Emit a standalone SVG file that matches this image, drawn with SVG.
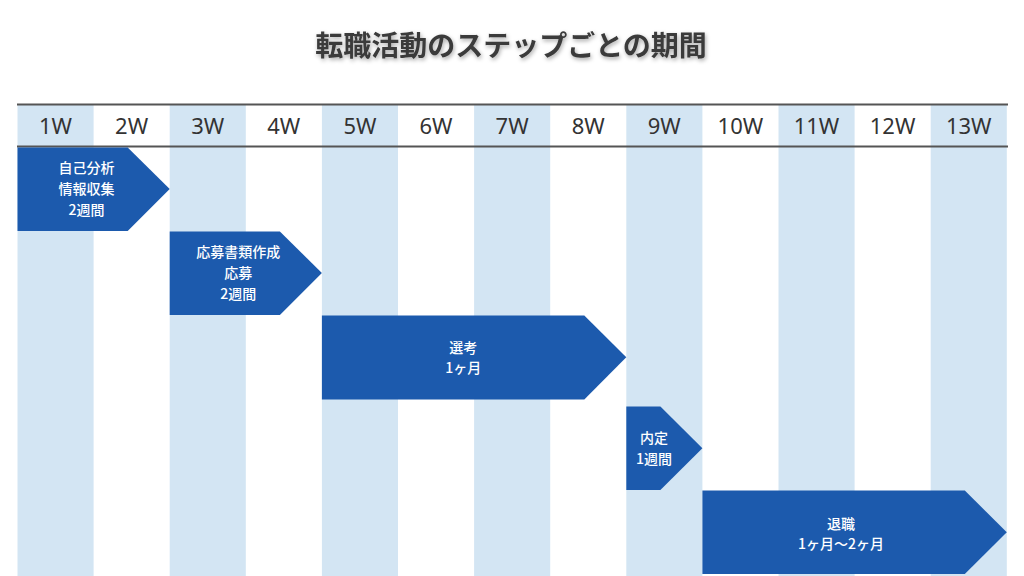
<svg xmlns="http://www.w3.org/2000/svg" width="1024" height="576" viewBox="0 0 1024 576">
<defs>
<filter id="sh" x="-10%" y="-50%" width="120%" height="200%">
<feDropShadow dx="1" dy="2" stdDeviation="2" flood-color="#000" flood-opacity="0.35"/>
</filter>
<style>
.col{fill:#d3e5f3}
.hd{font-family:"Noto Sans","Open Sans",sans-serif;font-size:22px;fill:#333;text-anchor:middle}
.ar{fill:#1c5aad}
.lb{font-family:"Noto Sans CJK JP","Noto Sans",sans-serif;font-size:14px;font-weight:500;fill:#fff;text-anchor:middle}
.ln{stroke:#555;stroke-width:2;fill:none}
.tt{font-family:"Noto Sans CJK JP","Noto Sans",sans-serif;font-size:28px;font-weight:700;fill:#3a3a3a;text-anchor:middle}
</style>
</defs>
<rect width="1024" height="576" fill="#fff"/>
<g id="title"><text class="tt" x="511" y="55.5" filter="url(#sh)">転職活動のステップごとの期間</text></g>
<g id="columns">
<rect class="col" x="17.5" y="104" width="76.1" height="472"/>
<rect class="col" x="169.7" y="104" width="76.1" height="472"/>
<rect class="col" x="321.9" y="104" width="76.1" height="472"/>
<rect class="col" x="474.1" y="104" width="76.1" height="472"/>
<rect class="col" x="626.3" y="104" width="76.1" height="472"/>
<rect class="col" x="778.5" y="104" width="76.1" height="472"/>
<rect class="col" x="930.7" y="104" width="76.1" height="472"/>
</g>
<g id="header">
<line class="ln" x1="17" y1="104.5" x2="1008" y2="104.5"/>
<line class="ln" x1="17" y1="146.5" x2="1008" y2="146.5"/>
<text class="hd" x="55.5" y="134">1W</text>
<text class="hd" x="131.6" y="134">2W</text>
<text class="hd" x="207.7" y="134">3W</text>
<text class="hd" x="283.8" y="134">4W</text>
<text class="hd" x="359.9" y="134">5W</text>
<text class="hd" x="436" y="134">6W</text>
<text class="hd" x="512.1" y="134">7W</text>
<text class="hd" x="588.2" y="134">8W</text>
<text class="hd" x="664.3" y="134">9W</text>
<text class="hd" x="740.4" y="134">10W</text>
<text class="hd" x="816.5" y="134">11W</text>
<text class="hd" x="892.6" y="134">12W</text>
<text class="hd" x="968.7" y="134">13W</text>
</g>
<g id="step1">
<polygon class="ar" points="17.5,147.5 127.7,147.5 169.7,189 127.7,231 17.5,231"/>
<text class="lb" x="86.5" y="173.3">自己分析</text>
<text class="lb" x="86.5" y="194.3">情報収集</text>
<text class="lb" x="86.5" y="215">2週間</text>
</g>
<g id="step2">
<polygon class="ar" points="169.7,231.5 279.9,231.5 321.9,273 279.9,315 169.7,315"/>
<text class="lb" x="238.3" y="257.3">応募書類作成</text>
<text class="lb" x="238.3" y="278.3">応募</text>
<text class="lb" x="238.3" y="299">2週間</text>
</g>
<g id="step3">
<polygon class="ar" points="321.9,315.5 584.3,315.5 626.3,357.3 584.3,399.5 321.9,399.5"/>
<text class="lb" x="463.3" y="352.7">選考</text>
<text class="lb" x="463.3" y="373.3">1ヶ月</text>
</g>
<g id="step4">
<polygon class="ar" points="626.3,406.5 660.4,406.5 702.4,448.3 660.4,490 626.3,490"/>
<text class="lb" x="654" y="442.7">内定</text>
<text class="lb" x="654" y="464">1週間</text>
</g>
<g id="step5">
<polygon class="ar" points="702.4,490.5 964.8,490.5 1006.8,532.3 964.8,574 702.4,574"/>
<text class="lb" x="841" y="529">退職</text>
<text class="lb" x="841" y="549">1ヶ月～2ヶ月</text>
</g>
<g id="connectors"/>
</svg>
